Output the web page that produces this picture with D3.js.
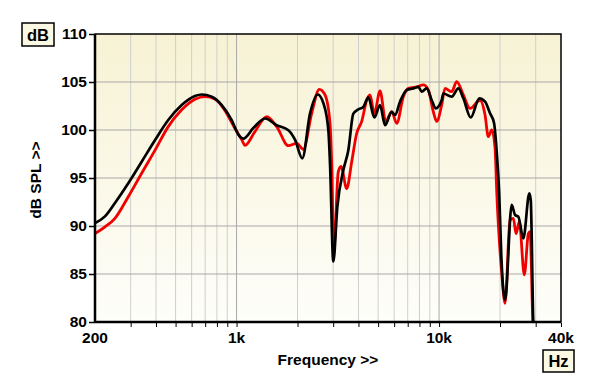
<!DOCTYPE html>
<html>
<head>
<meta charset="utf-8">
<script src="https://cdn.jsdelivr.net/npm/d3@7"></script>
<style>
  body { margin:0; background:#fff; }
  text { font-family: "Liberation Sans", Arial, sans-serif; font-weight:bold; }
</style>
</head>
<body>
<svg id="chart"></svg>
<script>
// frequency response, two measurements
const blackFreq = [200,224,251,292,340,396,460,536,623,673,754,845,946,1022,1080,1210,1382,1578,1803,1946,2112,2305,2517,2683,2840,2894,3005,3145,3367,3564,3773,3992,4227,4474,4790,5110,5408,5838,6060,6414,6924,7464,7900,8212,8690,9200,9628,10300,10500,11540,12450,13180,14340,15800,16870,17850,18690,19260,19800,20300,21180,22840,23730,24620,26070,27910,28360,29200,29600];
const blackDb   = [90.3,91.0,92.4,94.45,96.7,98.96,101.04,102.6,103.54,103.7,103.47,102.6,101.04,99.5,99.1,100.2,101.2,100.5,99.97,98.96,97.05,101.7,103.7,102.8,100.0,96.5,86.3,92.0,95.8,97.9,101.7,102.15,102.4,103.4,101.3,102.6,100.5,101.9,101.56,102.95,104.17,104.34,104.5,103.99,104.34,103.1,102.26,103.1,103.8,103.47,104.34,103.3,101.3,103.3,102.95,101.74,100.7,97.7,93.5,86.8,82.3,92.2,91.15,90.97,88.7,93.4,92.7,79.86,78];

const redFreq = [200,224,251,292,340,396,460,536,623,700,785,872,980,1060,1101,1230,1410,1578,1803,1982,2136,2350,2564,2735,2894,2950,3020,3180,3280,3500,3704,3920,4150,4393,4560,4790,5110,5453,5838,6180,6660,7050,7756,8360,8850,9370,9740,10300,10700,11540,12220,13180,14220,15920,16870,17500,18200,18900,19260,20390,21180,22400,23270,24000,24900,26360,27600,28130,29010,29300];
const redDb   = [89.2,89.9,90.8,93.05,95.5,97.9,100.35,102.1,103.2,103.47,103.2,102.1,100.2,99.0,98.4,99.8,101.4,100.35,98.37,98.6,97.99,101.74,104.24,103.65,100.7,96.5,87.5,95.66,96.2,93.9,96.7,99.66,100.9,103.1,103.65,101.74,104.06,100.9,101.9,100.7,103.47,104.34,104.5,104.7,104.17,101.9,100.9,102.6,104.34,103.99,105.03,103.65,102.26,103.1,101.56,99.3,100.0,98.1,93.6,85.07,81.95,90.6,90.8,89.2,90.45,84.9,89.2,89.4,80.2,78];

const yTicks = [80,85,90,95,100,105,110];
const xTickLabels = [[200,'200'],[1000,'1k'],[10000,'10k'],[40000,'40k']];
const xGrid = [300,400,500,600,700,800,900,1000,2000,3000,4000,5000,6000,7000,8000,9000,10000,20000,30000];

const W = 600, H = 389;
const plotL = 95, plotR = 561, plotT = 34, plotB = 322;
const fs = 15.5;

const svg = d3.select('#chart').attr('width',W).attr('height',H);

const x = d3.scaleLog().domain([200,40000]).range([plotL,plotR]);
const y = d3.scaleLinear().domain([80,110]).range([plotB,plotT]);

const defs = svg.append('defs');
const grad = defs.append('linearGradient').attr('id','bg')
                 .attr('x1',0).attr('y1',0).attr('x2',0).attr('y2',1);
grad.append('stop').attr('offset','0%').attr('stop-color','#f7f2d4');
grad.append('stop').attr('offset','100%').attr('stop-color','#fefefa');
defs.append('clipPath').attr('id','clip')
    .append('rect').attr('x',plotL).attr('y',plotT).attr('width',plotR-plotL).attr('height',plotB-plotT);

svg.append('rect')
   .attr('x',plotL).attr('y',plotT)
   .attr('width',plotR-plotL).attr('height',plotB-plotT)
   .attr('fill','url(#bg)');

// grid
svg.append('g').selectAll('line').data(xGrid).join('line')
   .attr('x1',d => x(d)).attr('x2',d => x(d))
   .attr('y1',plotT).attr('y2',plotB)
   .attr('stroke',d => (d == 1000 || d == 10000) ? '#a8a8a8' : '#cfcfcf')
   .attr('stroke-width',1);
svg.append('g').selectAll('line').data(yTicks.slice(1,-1)).join('line')
   .attr('x1',plotL).attr('x2',plotR)
   .attr('y1',d => y(d)).attr('y2',d => y(d))
   .attr('stroke','#a8a8a8')
   .attr('stroke-width',1);

// curves
const line = d3.line().x(d => x(d[0])).y(d => y(d[1])).curve(d3.curveMonotoneX);
const plot = svg.append('g').attr('clip-path','url(#clip)');
plot.append('path')
    .datum(d3.zip(redFreq,redDb))
    .attr('d',line)
    .attr('fill','none')
    .attr('stroke','#f00000')
    .attr('stroke-width',2.8)
    .attr('stroke-linejoin','round');
plot.append('path')
    .datum(d3.zip(blackFreq,blackDb))
    .attr('d',line)
    .attr('fill','none')
    .attr('stroke','#000')
    .attr('stroke-width',2.7)
    .attr('stroke-linejoin','round');

// frame
svg.append('rect')
   .attr('x',plotL).attr('y',plotT)
   .attr('width',plotR-plotL).attr('height',plotB-plotT)
   .attr('fill','none').attr('stroke','#000').attr('stroke-width',1.5);
svg.append('path')
   .attr('d',`M${plotL},${plotT}V${plotB}H${plotR}`)
   .attr('fill','none').attr('stroke','#000').attr('stroke-width',2.5);

// y axis labels
const yAxis = d3.axisLeft(y).tickValues(yTicks).tickSize(5).tickPadding(2);
svg.append('g').attr('transform',`translate(${plotL-1},0)`).call(yAxis)
   .call(g => g.select('.domain').remove())
   .call(g => g.selectAll('line').attr('stroke','#000').attr('stroke-width',1.5))
   .call(g => g.selectAll('text').attr('font-size',fs).attr('fill','#000')
                .style('font-family','"Liberation Sans", Arial, sans-serif').style('font-weight','bold'));

// x axis
const xAxis = d3.axisBottom(x).tickValues(xGrid.concat([40000])).tickSize(4).tickFormat('');
svg.append('g').attr('transform',`translate(0,${plotB+1})`).call(xAxis)
   .call(g => g.select('.domain').remove())
   .call(g => g.selectAll('line').attr('stroke','#000').attr('stroke-width',1));
svg.append('g').selectAll('text').data(xTickLabels).join('text')
   .attr('x',d => x(d[0])).attr('y',343)
   .attr('text-anchor','middle')
   .attr('font-size',fs)
   .text(d => d[1]);

svg.append('text')
   .attr('x',328).attr('y',365)
   .attr('text-anchor','middle').attr('font-size',fs)
   .text('Frequency >>');
svg.append('text')
   .attr('transform','translate(41,180) rotate(-90)')
   .attr('text-anchor','middle').attr('font-size',fs)
   .text('dB SPL >>');

// unit boxes
function unitBox(bx,by,bw,bh,label){
  svg.append('rect').attr('x',bx).attr('y',by).attr('width',bw).attr('height',bh)
     .attr('fill','#fbf9e3').attr('stroke','#000').attr('stroke-width',1.5);
  svg.append('text').attr('x',bx+bw/2).attr('y',by+bh/2+6)
     .attr('text-anchor','middle').attr('font-size',16.5).text(label);
}
unitBox(22,23,32,23,'dB');
unitBox(543,350,31,22,'Hz');
</script>
</body>
</html>
